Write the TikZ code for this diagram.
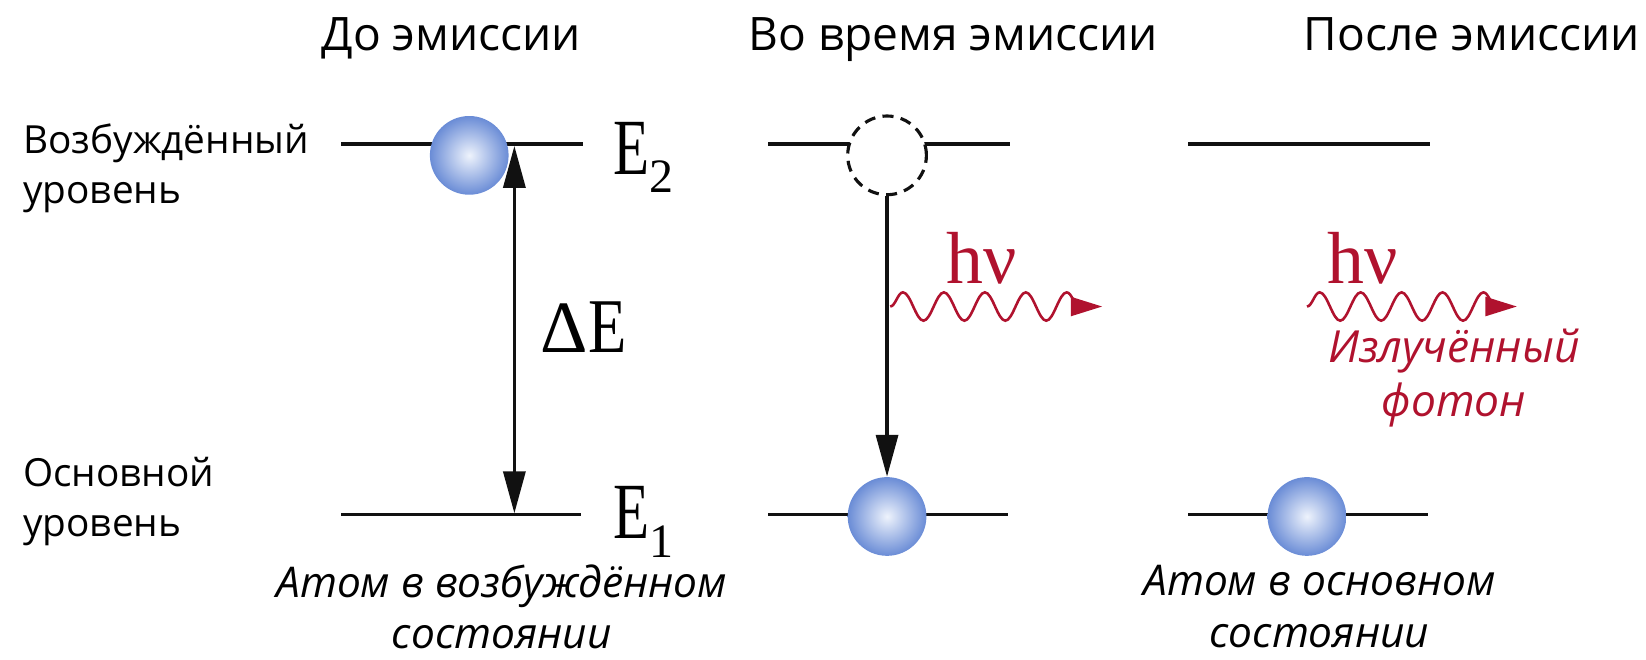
\documentclass[tikz,border=0pt]{standalone}
\usepackage{fontspec}
\setmainfont{Open Sans}
\newfontfamily\serfont{Liberation Serif}
\usetikzlibrary{arrows.meta,decorations.pathmorphing}
\definecolor{BallBlue}{HTML}{6A8CD6}
\definecolor{BallLight}{HTML}{EEF3FC}
\definecolor{PhotonRed}{HTML}{B0122E}
\definecolor{Ink}{HTML}{111111}

\begin{document}
\begin{tikzpicture}[x=0.02cm,y=-0.02cm,
  level/.style={Ink,line width=2pt},
  ball/.style={circle,inner sep=0pt,minimum size=1.5cm,inner color=BallLight,outer color=BallBlue},
  ghost/.style={circle,draw=Ink,fill=white,line width=1.7pt,dash pattern=on 6pt off 4pt,inner sep=0pt,minimum size=1.5cm},
  title/.style={font=\fontsize{25}{30}\selectfont,anchor=base},
  side/.style={font=\fontsize{21}{27}\selectfont,align=left,anchor=west},
  note/.style={font=\fontsize{23}{28}\selectfont\itshape,align=center},
  energy/.style={font=\fontsize{40}{42}\selectfont\serfont,inner sep=0pt},
  hnu/.style={font=\fontsize{40}{42}\selectfont\serfont,color=PhotonRed},
  jump/.style={Ink,line width=1.8pt},
  photon/.style={PhotonRed,line width=1.4pt,decorate,
    decoration={snake,amplitude=0.27cm,segment length=0.78cm,post length=0.35cm}}
]
\useasboundingbox (0,0) rectangle (1568,628);

% --- titles and side labels ---
\node[title] (t-before) at (430,48) {До эмиссии};
\node[title] (t-during) at (908,48) {Во время эмиссии};
\node[title] (t-after) at (1402,48) {После эмиссии};
\node[side] (s-hi) at (16,160) {Возбуждённый\\уровень};
\node[side] (s-lo) at (16,478) {Основной\\уровень};

% --- energy levels ---
\foreach \c/\cx in {a/440,b/847,c/1247}{
  \coordinate (\c-hi-w) at (\cx-115,137);
  \coordinate (\c-hi-e) at (\cx+115,137);
  \coordinate (\c-lo-w) at (\cx-115,490);
  \coordinate (\c-lo-e) at (\cx+113,490);
  \draw[level] (\c-hi-w) -- (\c-hi-e);
  \draw[level] (\c-lo-w) -- (\c-lo-e);
}

% --- before emission ---
\node[ball] (a-ball) at (447,148) {};
\coordinate (a-top) at (490,139);
\coordinate (a-bot) at (490,489);
\draw[jump,{Triangle[length=0.8cm,width=0.42cm]}-{Triangle[length=0.8cm,width=0.42cm]}] (a-top) -- (a-bot);
\node[energy] (de) at (556,312) {Δ\scalebox{0.85}[1.05]{E}};
\node[energy,anchor=west] (e2) at (584,150) {\scalebox{0.8}[1.08]{E}\raisebox{-10pt}{\fontsize{26}{26}\selectfont 2}};
\node[energy,anchor=west] (e1) at (584,497) {\scalebox{0.8}[1.08]{E}\raisebox{-10pt}{\fontsize{26}{26}\selectfont 1}};
\node[note] (n-before) at (478,578) {Атом в возбуждённом\\состоянии};

% --- during emission ---
\node[ghost] (b-ghost) at (845,148) {};
\node[ball] (b-ball) at (845,492) {};
\draw[jump,-{Triangle[length=0.8cm,width=0.42cm]}] (b-ghost.south) -- (b-ball.north);
\node[hnu] (b-hnu) at (935,246) {hν};
\coordinate (b-ph-s) at (848,292);
\coordinate (b-ph-e) at (1050,292);
\draw[photon,-{Triangle[length=0.6cm,width=0.36cm]}] (b-ph-s) -- (b-ph-e);

% --- after emission ---
\node[ball] (c-ball) at (1245,492) {};
\node[hnu] (c-hnu) at (1298,246) {hν};
\coordinate (c-ph-s) at (1245,292);
\coordinate (c-ph-e) at (1445,292);
\draw[photon,-{Triangle[length=0.6cm,width=0.36cm]}] (c-ph-s) -- (c-ph-e);
\node[note,PhotonRed,font=\fontsize{24}{29}\selectfont\itshape] (c-phot) at (1385,360) {Излучённый\\фотон};
\node[note] (n-after) at (1257,578) {Атом в основном\\состоянии};
\end{tikzpicture}
\end{document}
